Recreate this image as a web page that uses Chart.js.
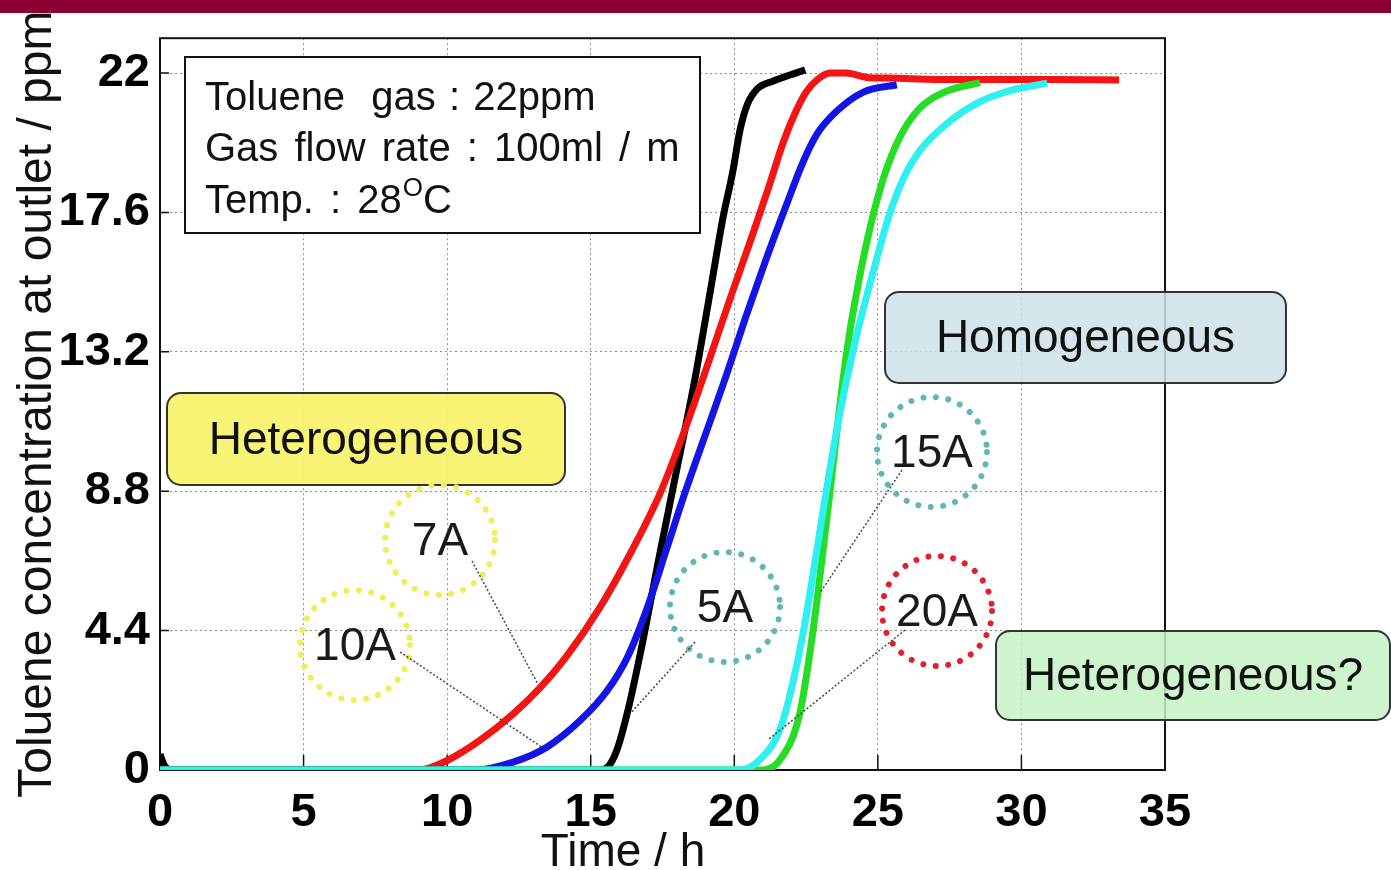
<!DOCTYPE html>
<html>
<head>
<meta charset="utf-8">
<title>Toluene breakthrough</title>
<script src="https://cdn.jsdelivr.net/npm/chart.js@4.4.1/dist/chart.umd.min.js"></script>
<style>
	html, body { margin: 0; padding: 0; background: #fff; }
	#wrap { position: absolute; left: 0; top: 0; width: 1391px; height: 870px; }
	#topBar { position: absolute; left: 0; top: 0; width: 1391px; height: 13px; background: #8c0032; }
</style>
</head>
<body>
<div id="wrap"><canvas id="chart" width="1391" height="870"></canvas></div>
<div id="topBar"></div>
<script>
"use strict";

// Breakthrough curves: time in h, outlet concentration in ppm

var time5A = [0, 0.15, 0.4, 15.3, 15.6, 15.9, 16.3, 16.8, 17.4, 18.0, 18.6, 19.2, 19.6, 19.95, 20.2, 20.45, 20.8, 21.36, 21.94, 22.47],
	ppm5A = [0.5, 0.15, 0, 0, 0.1, 0.6, 1.9, 4.0, 6.8, 9.5, 12.2, 15.3, 17.4, 18.9, 20.2, 21.0, 21.5, 21.75, 21.94, 22.1];

var time7A = [0, 9.0, 10.0, 11.15, 12.3, 13.24, 14.17, 15.3, 16.3, 17.4, 18.3, 19.15, 19.9, 20.6, 21.2, 21.7, 22.1, 22.5, 22.9, 23.34, 23.9, 24.7, 25.4, 27, 29, 31, 33.4],
	ppm7A = [0, 0, 0.3, 0.94, 1.77, 2.6, 3.6, 5.1, 6.7, 8.7, 10.8, 13.0, 15.0, 16.8, 18.4, 19.8, 20.7, 21.4, 21.8, 22.0, 22.0, 21.85, 21.84, 21.8, 21.8, 21.8, 21.78];

var time10A = [0, 11.0, 12.3, 13.47, 14.63, 15.57, 16.3, 17.0, 17.65, 18.3, 19.0, 19.7, 20.4, 21.1, 21.8, 22.4, 22.9, 23.57, 24.5, 25.66],
	ppm10A = [0, 0, 0.25, 0.72, 1.56, 2.5, 3.6, 5.2, 7.0, 8.8, 10.6, 12.4, 14.3, 16.1, 17.8, 19.2, 20.1, 20.8, 21.4, 21.63];

var time15A = [0, 20.2, 20.9, 21.6, 22.05, 22.45, 22.8, 23.15, 23.6, 24.15, 24.8, 25.5, 26.2, 27.4, 28.56, 29.7, 30.9],
	ppm15A = [0, 0, 0.33, 1.3, 2.8, 4.6, 6.5, 8.5, 10.9, 13.3, 15.6, 17.8, 19.2, 20.4, 21.1, 21.47, 21.68];

var time20A = [0, 21.0, 21.6, 22.28, 22.74, 23.1, 23.4, 23.7, 24.0, 24.35, 24.75, 25.2, 25.78, 26.47, 27.4, 28.56],
	ppm20A = [0, 0, 0.33, 1.78, 4.38, 7.0, 9.3, 11.7, 13.7, 15.5, 17.2, 18.7, 20.0, 20.9, 21.43, 21.7];

var X_TICKS = [0, 5, 10, 15, 20, 25, 30, 35],
	Y_TICKS = [0, 4.4, 8.8, 13.2, 17.6, 22],
	Y_TICK_LABELS = ["0", "4.4", "8.8", "13.2", "17.6", "22"];

var FONT = "'Liberation Sans', Arial, Helvetica, sans-serif";

// Annotations (pixel positions on the canvas, leader ends in data units)

var INFO_BOX = { x: 185, y: 57, w: 515, h: 176 };

var INFO_LINES = [
	{ text: "Toluene  gas : 22ppm", y: 110, spacing: "2px" },
	{ text: "Gas flow rate : 100ml / m", y: 161, spacing: "5px" },
	{ text: "Temp. : 28", y: 213, spacing: "5px" }
];

var REGION_BOXES = [
	{ text: "Heterogeneous", x: 167, y: 393, w: 398, h: 92, fill: "rgba(248,243,105,0.92)" },
	{ text: "Homogeneous", x: 885, y: 292, w: 401, h: 91, fill: "rgba(205,226,232,0.85)" },
	{ text: "Heterogeneous?", x: 996, y: 631, w: 394, h: 89, fill: "rgba(196,242,196,0.85)" }
];

var CURRENT_TAGS = [
	{ text: "7A", cx: 440, cy: 540, color: "#eeee55", from: [472, 561], to: [13.16, 2.71] },
	{ text: "10A", cx: 355, cy: 645, color: "#eeee55", from: [400, 652], to: [13.3, 0.72] },
	{ text: "5A", cx: 725, cy: 607, color: "#5fb6b6", from: [695, 642], to: [16.3, 1.7] },
	{ text: "15A", cx: 932, cy: 452, color: "#5fb6b6", from: [902, 470], to: [22.99, 5.6] },
	{ text: "20A", cx: 937, cy: 611, color: "#e0202e", from: [905, 630], to: [21.17, 0.95] }
];

function toPoints(times, values) {
	var points = [];

	for (var i = 0; i < times.length; i++) {
		points.push({ x: times[i], y: values[i] });
	}
	return points;
}

function curve(label, times, values, color, order) {
	return {
		label: label,
		data: toPoints(times, values),
		borderColor: color,
		borderWidth: 7,
		pointRadius: 0,
		cubicInterpolationMode: "monotone",
		order: order
	};
}

function roundRect(ctx, x, y, w, h, r) {
	ctx.beginPath();
	ctx.moveTo(x + r, y);
	ctx.lineTo(x + w - r, y);
	ctx.arcTo(x + w, y, x + w, y + r, r);
	ctx.lineTo(x + w, y + h - r);
	ctx.arcTo(x + w, y + h, x + w - r, y + h, r);
	ctx.lineTo(x + r, y + h);
	ctx.arcTo(x, y + h, x, y + h - r, r);
	ctx.lineTo(x, y + r);
	ctx.arcTo(x, y, x + r, y, r);
	ctx.closePath();
}

var decorPlugin = {
	id: "decor",
	// frame goes under the curves: the flat cyan run covers the bottom axis
	beforeDatasetsDraw: function (chart) {
		var ctx = chart.ctx, area = chart.chartArea,
			xs = chart.scales.x, ys = chart.scales.y, i;

		ctx.save();
		ctx.strokeStyle = "#111";
		ctx.lineWidth = 2;
		ctx.strokeRect(area.left, area.top, area.right - area.left, area.bottom - area.top);
		ctx.lineWidth = 1.5;
		ctx.beginPath();
		for (i = 1; i < X_TICKS.length - 1; i++) {
			var px = xs.getPixelForValue(X_TICKS[i]);
			ctx.moveTo(px, area.bottom);
			ctx.lineTo(px, area.bottom - 15);
		}
		for (i = 1; i < Y_TICKS.length; i++) {
			var py = ys.getPixelForValue(Y_TICKS[i]);
			ctx.moveTo(area.left, py);
			ctx.lineTo(area.left + 9, py);
		}
		ctx.stroke();
		ctx.restore();
	},
	afterDatasetsDraw: function (chart) {
		var ctx = chart.ctx, xs = chart.scales.x, ys = chart.scales.y, i, b, tag, line;

		ctx.save();

		// info box
		ctx.fillStyle = "#fff";
		ctx.fillRect(INFO_BOX.x, INFO_BOX.y, INFO_BOX.w, INFO_BOX.h);
		ctx.strokeStyle = "#111";
		ctx.lineWidth = 2;
		ctx.strokeRect(INFO_BOX.x, INFO_BOX.y, INFO_BOX.w, INFO_BOX.h);
		ctx.fillStyle = "#111";
		ctx.textAlign = "left";
		ctx.textBaseline = "alphabetic";
		ctx.font = "40px " + FONT;
		for (i = 0; i < INFO_LINES.length; i++) {
			line = INFO_LINES[i];
			ctx.wordSpacing = line.spacing;
			ctx.fillText(line.text, 205, line.y);
		}
		var w = ctx.measureText(INFO_LINES[2].text).width;
		ctx.wordSpacing = "0px";
		ctx.font = "26px " + FONT;
		ctx.fillText("O", 205 + w + 1, 196);
		var w2 = ctx.measureText("O").width;
		ctx.font = "40px " + FONT;
		ctx.fillText("C", 205 + w + w2 + 1, 213);

		// region boxes
		for (i = 0; i < REGION_BOXES.length; i++) {
			b = REGION_BOXES[i];
			roundRect(ctx, b.x, b.y, b.w, b.h, 14);
			ctx.fillStyle = b.fill;
			ctx.fill();
			ctx.strokeStyle = "#333";
			ctx.lineWidth = 2;
			ctx.stroke();
			ctx.fillStyle = "#111";
			ctx.font = "46px " + FONT;
			ctx.textAlign = "center";
			ctx.textBaseline = "middle";
			ctx.fillText(b.text, b.x + b.w / 2, b.y + b.h / 2 + 2);
		}

		// dotted circles, labels and leader lines
		for (i = 0; i < CURRENT_TAGS.length; i++) {
			tag = CURRENT_TAGS[i];
			ctx.beginPath();
			ctx.arc(tag.cx, tag.cy, 55, 0, Math.PI * 2);
			ctx.setLineDash([0.01, 12.5]);
			ctx.lineCap = "round";
			ctx.lineWidth = 6;
			ctx.strokeStyle = tag.color;
			ctx.stroke();

			ctx.beginPath();
			ctx.moveTo(tag.from[0], tag.from[1]);
			ctx.lineTo(xs.getPixelForValue(tag.to[0]), ys.getPixelForValue(tag.to[1]));
			ctx.setLineDash([2, 2]);
			ctx.lineCap = "butt";
			ctx.lineWidth = 1.5;
			ctx.strokeStyle = "#444";
			ctx.stroke();
			ctx.setLineDash([]);

			ctx.fillStyle = "#1a1a1a";
			ctx.font = "46px " + FONT;
			ctx.textAlign = "center";
			ctx.textBaseline = "middle";
			ctx.fillText(tag.text, tag.cx, tag.cy + 2);
		}

		ctx.restore();
	},
	afterDraw: function (chart) {
		var ctx = chart.ctx;

		ctx.save();
		ctx.fillStyle = "#111";
		ctx.font = "46px " + FONT;
		ctx.textAlign = "center";
		ctx.textBaseline = "alphabetic";
		ctx.fillText("Time / h", 623, 866);
		ctx.restore();
	}
};

var chart = new Chart(document.getElementById("chart"), {
	type: "line",
	data: {
		datasets: [
			curve("15A", time15A, ppm15A, "#2ef0f0", 0),
			curve("20A", time20A, ppm20A, "#25dd25", 1),
			curve("10A", time10A, ppm10A, "#1414e6", 2),
			curve("7A", time7A, ppm7A, "#f41414", 3),
			curve("5A", time5A, ppm5A, "#000000", 4)
		]
	},
	options: {
		responsive: false,
		animation: false,
		events: [],
		layout: { padding: { top: 30, right: 226, bottom: 0, left: 0 } },
		plugins: {
			legend: { display: false },
			tooltip: { enabled: false }
		},
		scales: {
			x: {
				type: "linear",
				min: 0,
				max: 35,
				afterBuildTicks: function (scale) {
					scale.ticks = X_TICKS.map(function (v) { return { value: v }; });
				},
				afterFit: function (scale) { scale.height = 100; },
				grid: { color: "#8d8d8d", lineWidth: 1, drawTicks: false },
				border: { display: false, dash: [2, 3] },
				ticks: {
					padding: 15,
					color: "#000",
					maxRotation: 0,
					autoSkip: false,
					font: { family: FONT, size: 47, weight: "bold" }
				}
			},
			y: {
				type: "linear",
				min: 0,
				max: 23.1,
				afterBuildTicks: function (scale) {
					scale.ticks = Y_TICKS.map(function (v) { return { value: v }; });
				},
				afterFit: function (scale) { scale.width = 160; },
				grid: { color: "#8d8d8d", lineWidth: 1, drawTicks: false },
				border: { display: false, dash: [2, 3] },
				ticks: {
					padding: 10,
					color: "#000",
					autoSkip: false,
					font: { family: FONT, size: 47, weight: "bold" },
					callback: function (value, index) { return Y_TICK_LABELS[index]; }
				},
				title: {
					display: true,
					text: "Toluene concentration at outlet / ppm",
					color: "#111",
					padding: { top: 9, bottom: 0 },
					font: { family: FONT, size: 48, lineHeight: 1.2 }
				}
			}
		}
	},
	plugins: [decorPlugin]
});
</script>
</body>
</html>
